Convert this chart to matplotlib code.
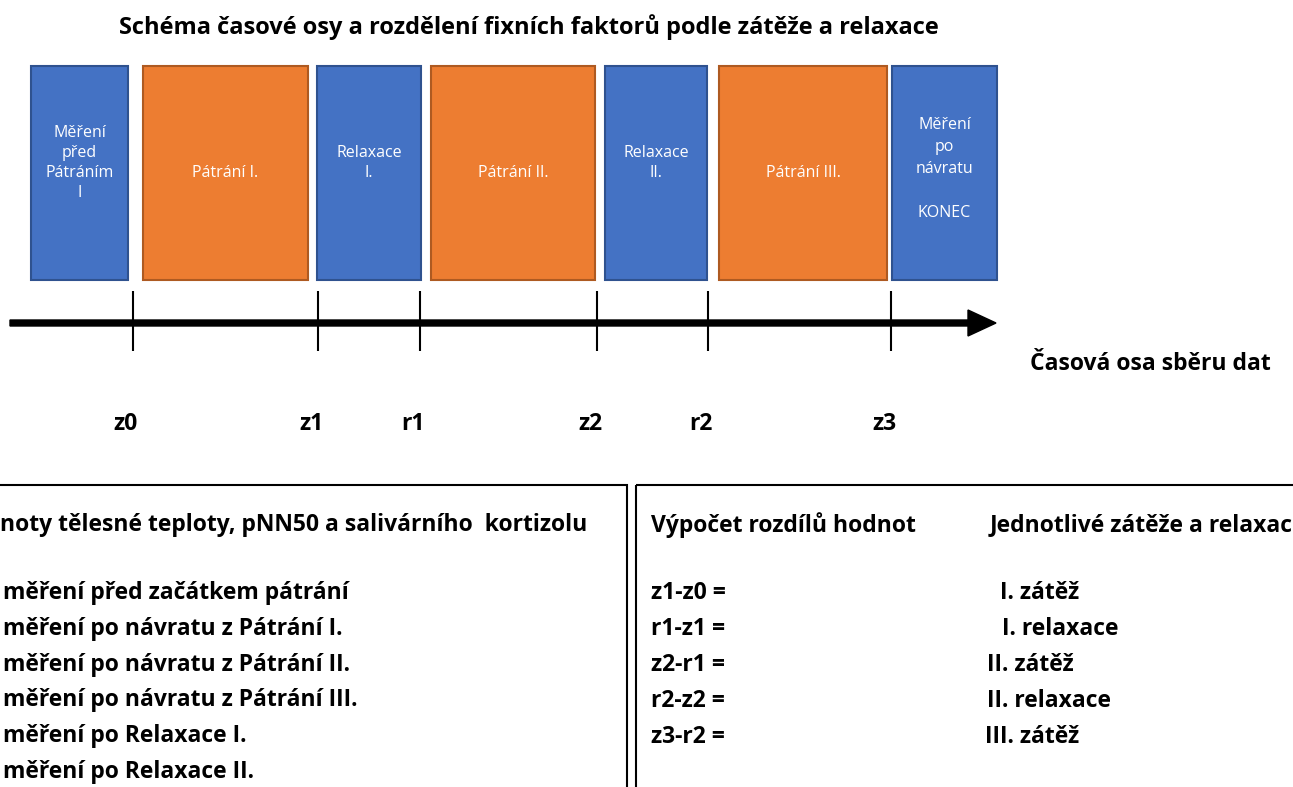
import matplotlib.pyplot as plt
from matplotlib.patches import Rectangle

plt.rcParams['font.family'] = ['Open Sans', 'DejaVu Sans']

# timeline phases (left edge, right edge in px of the original slide)
phase_labels = ['Měření\npřed\nPátráním\nI', 'Pátrání I.', 'Relaxace\nI.', 'Pátrání II.',
                'Relaxace\nII.', 'Pátrání III.', 'Měření\npo\nnávratu\n\nKONEC']
phase_kind = ['mereni', 'zatez', 'relax', 'zatez', 'relax', 'zatez', 'mereni']
phase_left = [31, 143, 317, 431, 605, 719, 892]
phase_right = [128, 308, 421, 595, 707, 887, 997]

# measurement points on the time axis
point_labels = ['z0', 'z1', 'r1', 'z2', 'r2', 'z3']
point_pos = [133, 318, 420, 597, 708, 891]

left_header = 'noty tělesné teploty, pNN50 a salivárního  kortizolu'
left_items = ['měření před začátkem pátrání',
              'měření po návratu z Pátrání I.',
              'měření po návratu z Pátrání II.',
              'měření po návratu z Pátrání III.',
              'měření po Relaxace I.',
              'měření po Relaxace II.']

right_header = ['Výpočet rozdílů hodnot', 'Jednotlivé zátěže a relaxace']
diff_labels = ['z1-z0 =', 'r1-z1 =', 'z2-r1 =', 'r2-z2 =', 'z3-r2 =']
diff_meaning = ['I. zátěž', 'I. relaxace', 'II. zátěž', 'II. relaxace', 'III. zátěž']

BLUE, BLUE_EDGE = '#4472C4', '#2F528F'
ORANGE, ORANGE_EDGE = '#ED7D31', '#AE5A21'
FS = 16.5

fig = plt.figure(figsize=(12.93, 7.87), dpi=100)
ax = fig.add_axes([0, 0, 1, 1])
ax.set_xlim(0, 1293)
ax.set_ylim(787, 0)
ax.axis('off')

ax.text(529, 27, 'Schéma časové osy a rozdělení fixních faktorů podle zátěže a relaxace',
        ha='center', va='center', fontsize=17, fontweight='bold')

# phase boxes
for lab, kind, x0, x1 in zip(phase_labels, phase_kind, phase_left, phase_right):
    if kind == 'zatez':
        fc, ec = ORANGE, ORANGE_EDGE
    else:
        fc, ec = BLUE, BLUE_EDGE
    ax.add_patch(Rectangle((x0, 66), x1 - x0, 214, facecolor=fc, edgecolor=ec, lw=1.5))
    if kind == 'zatez':
        cy, ls = 173, 1.35
    elif kind == 'relax':
        cy, ls = 163, 1.35
    elif x0 < 500:
        cy, ls = 163, 1.35
    else:
        cy, ls = 169, 1.5
    ax.text((x0 + x1) / 2, cy, lab, ha='center', va='center', color='white',
            fontsize=11.5, linespacing=ls)

# time axis
ax.arrow(10, 323, 958, 0, width=6, head_width=26, head_length=28, color='black')
ax.vlines(point_pos, 291, 351, color='black', lw=1.5)
for lab, x in zip(point_labels, point_pos):
    ax.text(x - 7, 424, lab, ha='center', va='center', fontsize=FS, fontweight='bold')

ax.text(1030, 364, 'Časová osa sběru dat', ha='left', va='center', fontsize=FS, fontweight='bold')

# lower boxes
ax.add_patch(Rectangle((-5, 485), 632, 320, facecolor='none', edgecolor='black', lw=1.5))
ax.add_patch(Rectangle((636, 485), 680, 320, facecolor='none', edgecolor='black', lw=1.5))

ax.text(0, 525, left_header, ha='left', va='center', fontsize=FS, fontweight='bold')
for i, item in enumerate(left_items):
    ax.text(3, 593 + i * 35.8, item, ha='left', va='center', fontsize=FS, fontweight='bold')

ax.text(651, 525, right_header[0], ha='left', va='center', fontsize=FS, fontweight='bold')
ax.text(990, 525, right_header[1], ha='left', va='center', fontsize=FS, fontweight='bold',
        clip_on=True)
right_x = [1000, 1002, 987, 987, 985]
for i, (d, m) in enumerate(zip(diff_labels, diff_meaning)):
    ax.text(651, 593 + i * 36, d, ha='left', va='center', fontsize=FS, fontweight='bold')
    ax.text(right_x[i], 593 + i * 36, m, ha='left', va='center', fontsize=FS, fontweight='bold')

fig.savefig('out.png', dpi=100)
